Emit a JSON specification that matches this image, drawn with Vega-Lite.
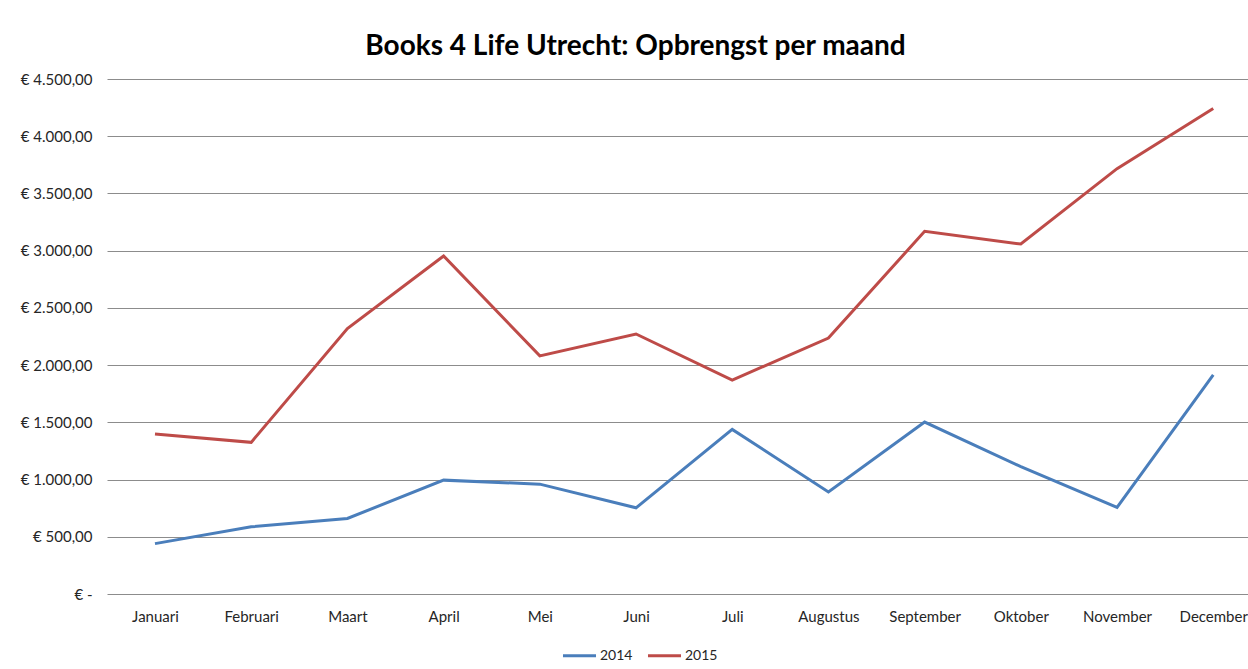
{
  "$schema": "https://vega.github.io/schema/vega-lite/v6.json",
  "autosize": "none",
  "width": 1141,
  "height": 515,
  "padding": {"left": 107, "top": 79, "right": 0, "bottom": 75},
  "background": "white",
  "title": {
    "text": "Books 4 Life Utrecht: Opbrengst per maand",
    "font": "Lato",
    "fontSize": 28,
    "fontWeight": "bold",
    "color": "#000000",
    "anchor": "middle",
    "dx": -42,
    "offset": 11
  },
  "data": {
    "values": [
      {"maand": "Januari", "jaar": "2014", "opbrengst": 440},
      {"maand": "Februari", "jaar": "2014", "opbrengst": 587},
      {"maand": "Maart", "jaar": "2014", "opbrengst": 660},
      {"maand": "April", "jaar": "2014", "opbrengst": 995},
      {"maand": "Mei", "jaar": "2014", "opbrengst": 960},
      {"maand": "Juni", "jaar": "2014", "opbrengst": 753},
      {"maand": "Juli", "jaar": "2014", "opbrengst": 1438},
      {"maand": "Augustus", "jaar": "2014", "opbrengst": 892},
      {"maand": "September", "jaar": "2014", "opbrengst": 1502},
      {"maand": "Oktober", "jaar": "2014", "opbrengst": 1113},
      {"maand": "November", "jaar": "2014", "opbrengst": 757},
      {"maand": "December", "jaar": "2014", "opbrengst": 1915},
      {"maand": "Januari", "jaar": "2015", "opbrengst": 1398},
      {"maand": "Februari", "jaar": "2015", "opbrengst": 1325},
      {"maand": "Maart", "jaar": "2015", "opbrengst": 2320},
      {"maand": "April", "jaar": "2015", "opbrengst": 2954},
      {"maand": "Mei", "jaar": "2015", "opbrengst": 2081},
      {"maand": "Juni", "jaar": "2015", "opbrengst": 2272},
      {"maand": "Juli", "jaar": "2015", "opbrengst": 1869},
      {"maand": "Augustus", "jaar": "2015", "opbrengst": 2236},
      {"maand": "September", "jaar": "2015", "opbrengst": 3169},
      {"maand": "Oktober", "jaar": "2015", "opbrengst": 3058},
      {"maand": "November", "jaar": "2015", "opbrengst": 3717},
      {"maand": "December", "jaar": "2015", "opbrengst": 4243}
    ]
  },
  "mark": {"type": "line", "strokeWidth": 3, "strokeJoin": "miter"},
  "encoding": {
    "x": {
      "field": "maand",
      "type": "ordinal",
      "sort": ["Januari", "Februari", "Maart", "April", "Mei", "Juni", "Juli", "Augustus", "September", "Oktober", "November", "December"],
      "scale": {"type": "point", "padding": 0.43, "align": 0.58},
      "axis": {
        "title": null,
        "labelAngle": 0,
        "domain": false,
        "ticks": false,
        "grid": false,
        "labelPadding": 15,
        "labelFont": "Lato",
        "labelFontSize": 15,
        "labelColor": "#262626"
      }
    },
    "y": {
      "field": "opbrengst",
      "type": "quantitative",
      "scale": {"domain": [0, 4500], "nice": false},
      "axis": {
        "title": null,
        "values": [0, 500, 1000, 1500, 2000, 2500, 3000, 3500, 4000, 4500],
        "labelExpr": "datum.value == 0 ? '€ -' : '€ ' + replace(replace(replace(format(datum.value, ',.2f'), ',', '#'), '.', ','), '#', '.')",
        "domain": false,
        "ticks": false,
        "grid": true,
        "gridColor": "#8c8c8c",
        "gridWidth": 1,
        "labelPadding": 15,
        "labelFont": "Lato",
        "labelFontSize": 15,
        "labelColor": "#262626"
      }
    },
    "color": {
      "field": "jaar",
      "type": "nominal",
      "scale": {"domain": ["2014", "2015"], "range": ["#4A7EBB", "#BE4B48"]},
      "legend": {
        "title": null,
        "orient": "none",
        "direction": "horizontal",
        "legendX": 454,
        "legendY": 558,
        "symbolType": "stroke",
        "symbolSize": 1090,
        "symbolStrokeWidth": 3,
        "labelFont": "Lato",
        "labelFontSize": 14,
        "labelColor": "#262626",
        "labelOffset": 2,
        "columnPadding": 8
      }
    }
  },
  "config": {
    "view": {"stroke": null}
  }
}
